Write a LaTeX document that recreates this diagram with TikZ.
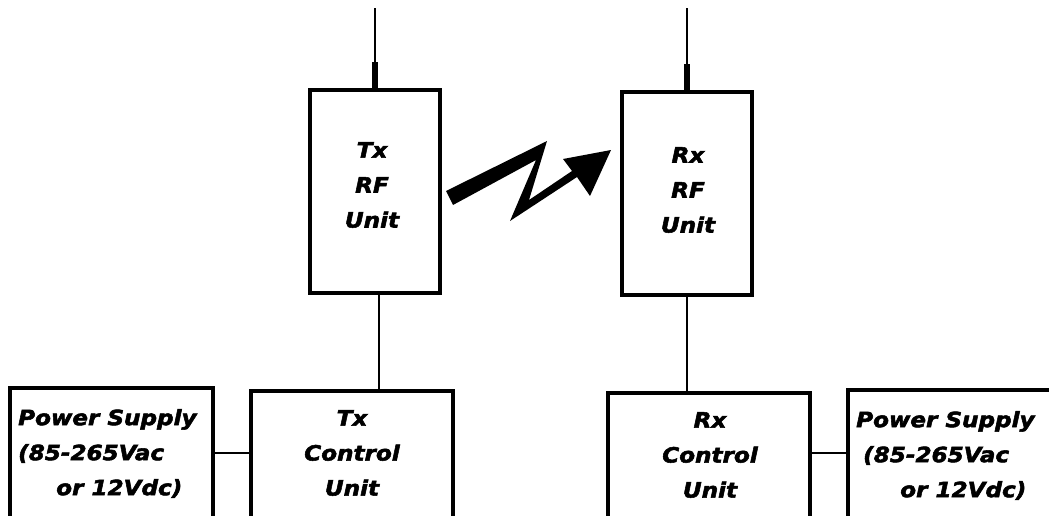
\documentclass[tikz,border=0pt]{standalone}
\usepackage{fontspec}
\newfontfamily\lblfam[FakeStretch=1.1,FakeBold=2.5]{DejaVu Sans}
\begin{document}
\begin{tikzpicture}[x=1pt,y=-1pt,
  box/.style={draw,line width=3.4pt,inner sep=0pt},
  lbl/.style={font=\lblfam\bfseries\itshape\fontsize{21}{35}\selectfont,align=center,inner sep=0pt},
  wire/.style={line width=2.8pt},
  thinant/.style={line width=2.6pt},
  thickant/.style={line width=5.5pt}]
\clip (0,0) rectangle (1049,515);
\fill[white] (0,0) rectangle (1049,515);
% RF units
\node[box,minimum width=130pt,minimum height=203pt] (txrf) at (375,191.5) {};
\node[box,minimum width=130pt,minimum height=203pt] (rxrf) at (687,193.5) {};
\node[lbl] (txrft) at (372,185) {Tx\\RF\\Unit};
\node[lbl] (rxrft) at (688,190) {Rx\\RF\\Unit};
% control units
\node[box,minimum width=202pt,minimum height=150pt] (txctl) at (352,466) {};
\node[box,minimum width=202pt,minimum height=150pt] (rxctl) at (709,468) {};
\node[lbl] (txctlt) at (352,453) {Tx\\Control\\Unit};
\node[lbl] (rxctlt) at (710,455) {Rx\\Control\\Unit};
% power supplies
\node[box,minimum width=203pt,minimum height=150pt] (psl) at (111.5,463) {};
\node[box,minimum width=212pt,minimum height=150pt] (psr) at (954,465) {};
\node[lbl,align=left,anchor=north west] (pslt) at (18,409) {Power Supply\\(85-265Vac\\\hspace*{38pt}or 12Vdc)};
\node[lbl,align=left,anchor=north west] (psrt) at (856,411) {Power Supply\\\hspace*{7pt}(85-265Vac\\\hspace*{44pt}or 12Vdc)};
% antennas
\coordinate (txtop) at (375,8);
\coordinate (txmid) at (375,62);
\coordinate (rxtop) at (687,8);
\coordinate (rxmid) at (687,64);
\draw[thinant] (txtop) -- (txmid);
\draw[thickant] (txmid) -- (txrf.north);
\draw[thinant] (rxtop) -- (rxmid);
\draw[thickant] (rxmid) -- (rxrf.north);
% vertical connectors
\coordinate (txdrop) at ([xshift=4pt]txrf.south);
\draw[wire] (txdrop) -- (txdrop |- txctl.north);
\draw[wire] (rxrf.south) -- (rxrf.south |- rxctl.north);
% horizontal connectors
\coordinate (lvl) at (0,453);
\draw[wire] (psl.east |- lvl) -- (txctl.west |- lvl);
\draw[wire] (rxctl.east |- lvl) -- (psr.west |- lvl);
% radio link bolt
\fill (446,191) -- (547,141) -- (529,200) -- (572,171) -- (563,159) -- (611,150)
  -- (590,196) -- (577,177) -- (510,221) -- (536,160) -- (453,205) -- cycle;
\end{tikzpicture}
\end{document}
